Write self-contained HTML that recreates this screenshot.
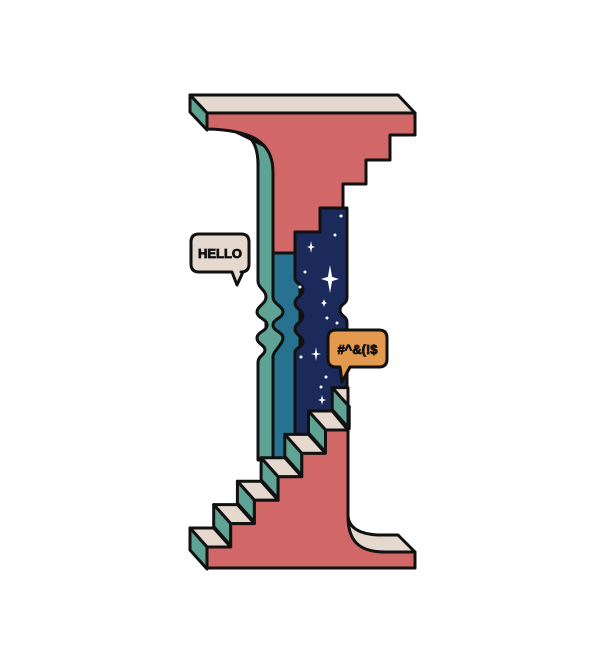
<!DOCTYPE html>
<html><head><meta charset="utf-8"><style>
html,body{margin:0;padding:0;background:#fff;width:593px;height:665px;overflow:hidden}
svg{display:block}
text{font-family:"Liberation Sans",sans-serif;font-weight:bold}
</style></head><body>
<svg width="593" height="665" viewBox="0 0 593 665" xmlns="http://www.w3.org/2000/svg">
<g stroke="#111" stroke-width="3" stroke-linejoin="round">
  <rect x="266" y="250" width="34" height="210" fill="#27728f"/>
  <path fill="#1b2a5a" d="M295,253 L295,232 L320,232 L320,208 L347,208 L347,298 C347,304 340,304 340,310 C340,316 347,316 347,322 L347,460 L295,460 L295,352 C295,348 303,347 303,342 C303,336 295,335 295,329 C295,323 303,322 303,316 C303,310 295,309 295,303 C295,297 303,296 303,290 C303,284 295,284 295,278 Z"/>
  <path fill="#5fa394" d="M228,128 C250,132 258,142 258,165 L258,281 C258,288 266,290 266,297 C266,304 257,306 257,312 C257,318 267,319 267,325 C267,331 257,332 257,338 C257,344 265,345 265,350 C265,355 258,356 258,362 L258,460 L273,460 L273,356 C273,352 283,344 283,338 C283,332 273,331 273,325 C273,319 283,318 283,312 C283,306 273,304 273,297 L273,150 Z"/>
  <path fill="#e5d9cf" d="M190,95 L398,95 L415,113 L207,113 Z"/>
  <path fill="#5fa394" d="M190,95 L207,113 L207,130 L190,112 Z"/>
  <path fill="#d16766" d="M207,113 L415,113 L415,135 L390,135 L390,160 L366,160 L366,184 L343,184 L343,208 L320,208 L320,232 L295,232 L295,253 L273,253 L273,172 C273,142 252,130 207,129 Z"/>
  <g id="stairs"></g>
  <path fill="#e5d9cf" d="M348,516 C349,528 360,534 378,535 L398,535 L415,552 L385,552 C360,552 348,545 348,516 Z"/>
  <path fill="#d16766" id="pinkbottom"/>
</g>
<g id="stars" fill="#fff"></g>
<g stroke="#111" stroke-width="3" stroke-linejoin="round">
  <path fill="#e5d9cf" d="M199,234 L241,234 Q249,234 249,242 L249,264 Q249,272 241,272 L243,272 L237,285 L232,272 L199,272 Q191,272 191,264 L191,242 Q191,234 199,234 Z"/>
</g>
<text x="220" y="258" font-size="13" text-anchor="middle" fill="#111" stroke="#111" stroke-width="0.8">HELLO</text>
<g stroke="#111" stroke-width="3" stroke-linejoin="round">
  <path fill="#e3994e" d="M336,330 L379,330 Q387,330 387,338 L387,359 Q387,367 379,367 L350,367 L342,382 L340,367 L336,367 Q328,367 328,359 L328,338 Q328,330 336,330 Z"/>
</g>
<text x="357.5" y="354" font-size="13" text-anchor="middle" fill="#111" stroke="#111" stroke-width="0.8">#^&amp;(!$</text>
</svg>
<script>
const NS="http://www.w3.org/2000/svg";
const st=document.getElementById('stairs');
const dx=23.7, dy=23.4;
for(let i=6;i>=0;i--){
  const x=190+dx*i, y=528-dy*i;
  const xr=Math.min(x+dx,348), xr2=Math.min(x+dx+17,348);
  const top=document.createElementNS(NS,'path');
  top.setAttribute('d',`M${x},${y} L${xr},${y} L${xr2},${y+19} L${x+17},${y+19} Z`);
  top.setAttribute('fill','#e5d9cf');
  
  
  st.appendChild(top);
  const side=document.createElementNS(NS,'path');
  side.setAttribute('d',`M${x},${y} L${x+17},${y+19} L${x+17},${y+41} L${x},${y+22} Z`);
  side.setAttribute('fill','#5fa394');
  
  
  st.appendChild(side);
}
let d='M207,568 L207,547';
for(let i=0;i<=6;i++){
  const bx=207+dx*i, by=547-dy*i;
  if(i>0) d+=` L${bx},${by}`;
  d+=` L${Math.min(bx+dx,348)},${by}`;
  if(i<6) d+=` L${bx+dx},${by-dy}`;
}
d+=' L348,516 C348,540 358,552 385,552 L415,552 L415,568 Z';
document.getElementById('pinkbottom').setAttribute('d',d);
const sg=document.getElementById('stars');
function star(cx,cy,h,w){
  const p=document.createElementNS(NS,'path');
  const t=Math.max(1,h*0.15);
  p.setAttribute('d',`M${cx},${cy-h} L${cx+t},${cy-t} L${cx+w},${cy} L${cx+t},${cy+t} L${cx},${cy+h} L${cx-t},${cy+t} L${cx-w},${cy} L${cx-t},${cy-t} Z`);
  
  
  sg.appendChild(p);
}
star(330,279,14,9);star(311,247,6,4);star(316,354,7,5);star(322,400,5,4);star(324,303,4,3);
[[341,216],[335,235],[305,272],[327,318],[337,323],[300,287],[326,377],[301,357],[321,387]].forEach(([x,y])=>{
  const c=document.createElementNS(NS,'circle');
  c.setAttribute('cx',x);c.setAttribute('cy',y);c.setAttribute('r',1.5);
  
  
  sg.appendChild(c);
});
</script>
</body></html>
